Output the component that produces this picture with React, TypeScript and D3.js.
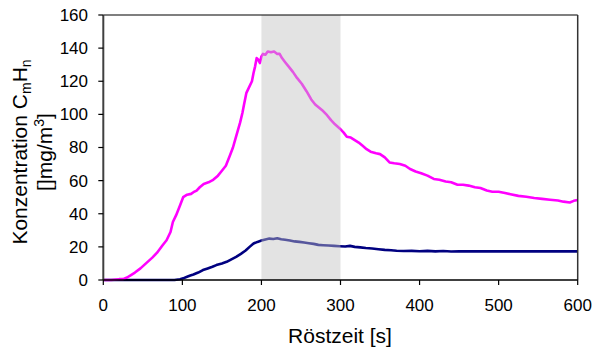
import React from "react";
import * as d3 from "d3";

const xTicks = [0, 100, 200, 300, 400, 500, 600];
const yTicks = [0, 20, 40, 60, 80, 100, 120, 140, 160];
const shadeRange = [200, 300];

const pinkT = [0, 10, 20, 25, 30, 35, 40, 47, 55, 62, 68, 75, 80, 85, 88, 92, 97, 101, 106, 111, 114, 118, 122, 127, 133, 139, 145, 150, 155, 160, 164, 167, 170, 173, 176, 178, 181, 184, 188, 190, 192, 194, 196, 198, 200, 202, 205, 208, 212, 216, 220, 223, 226, 230, 235, 240, 245, 251, 257, 263, 268, 273, 278, 283, 288, 293, 299, 304, 308, 313, 318, 323, 328, 333, 338, 345, 350, 356, 362, 368, 375, 382, 388, 395, 402, 410, 418, 425, 433, 440, 448, 455, 462, 470, 477, 485, 492, 500, 508, 515, 525, 535, 545, 555, 565, 575, 582, 590, 595, 600];
const pinkV = [0, 0, 0.5, 0.5, 1.5, 3, 4.5, 7, 10.5, 13.5, 16.5, 21, 24, 29, 35, 39, 45, 50, 51.5, 52, 53, 54, 56, 58, 59, 60.5, 63, 66, 69, 75, 80, 85, 90, 95, 101, 106, 113, 116, 120, 125, 129, 134, 133, 131, 135, 136.5, 136, 138, 137.5, 138, 136.5, 136.5, 134, 131.5, 128.5, 125.5, 122, 118.5, 114, 109, 106, 104, 102, 99.5, 96.5, 94, 91.5, 89, 86.5, 86, 84.5, 83, 81, 79, 77.5, 76.5, 76, 74, 71, 70.5, 70, 69, 67, 65.5, 64.5, 63, 61, 60.5, 59.5, 59, 57.5, 57.5, 57, 56, 55.5, 54, 53.3, 53.3, 52.5, 51.8, 50.8, 50.3, 49.5, 49, 48.5, 48, 47.3, 46.8, 47.8, 48.3];

const navyT = [0, 20, 40, 60, 80, 90, 97, 101, 106, 110, 114, 120, 126, 132, 138, 143, 150, 156, 162, 168, 174, 180, 185, 190, 195, 200, 205, 210, 215, 220, 225, 230, 236, 242, 248, 254, 260, 266, 272, 278, 285, 292, 299, 306, 312, 318, 325, 332, 340, 348, 356, 364, 371, 380, 390, 400, 410, 420, 430, 440, 450, 500, 550, 600];
const navyV = [0, 0, 0, 0, 0, 0, 0.5, 1, 2, 2.7, 3.3, 4.5, 6, 7, 8, 9, 10, 11, 12.5, 14, 15.8, 17.8, 20, 22, 23, 23.8, 24.5, 25, 24.8, 25.2, 24.6, 24.3, 23.8, 23.3, 23, 22.6, 22.2, 21.8, 21.2, 21, 20.8, 20.6, 20.4, 20.2, 20.6, 20, 19.7, 19.3, 19, 18.6, 18.2, 18, 17.7, 17.5, 17.6, 17.4, 17.6, 17.3, 17.5, 17.2, 17.3, 17.3, 17.3, 17.3];

const W = 593, H = 353;
const left = 103.3, right = 577.7, top = 15, bottom = 280;

export default function App() {
  const x = d3.scaleLinear().domain([0, 600]).range([left, right]);
  const y = d3.scaleLinear().domain([0, 160]).range([bottom, top]);
  const line = d3.line<[number, number]>().x(d => x(d[0])).y(d => y(d[1]));
  const pink = line(pinkT.map((t, i) => [t, pinkV[i]] as [number, number])) || "";
  const navy = line(navyT.map((t, i) => [t, navyV[i]] as [number, number])) || "";
  const font = "Liberation Sans, Arial, sans-serif";
  return (
    <svg width={W} height={H} style={{ position: "absolute", left: 0, top: 0, background: "#fff" }} fontFamily={font}>
      <rect x={left} y={top} width={right - left} height={bottom - top} fill="#fff" stroke="none" />
      <path d={navy} fill="none" stroke="#000080" strokeWidth={2.6} strokeLinejoin="round" />
      <path d={pink} fill="none" stroke="#ff00ff" strokeWidth={2.6} strokeLinejoin="round" />
      <rect x={x(shadeRange[0])} y={top} width={x(shadeRange[1]) - x(shadeRange[0])} height={bottom - top} fill="#c0c0c0" fillOpacity={0.45} />
      <line x1={left} x2={right} y1={top} y2={top} stroke="#000" strokeWidth={1.2} />
      <line x1={right} x2={right} y1={top} y2={bottom} stroke="#333" strokeWidth={1.5} />
      <line x1={left} x2={left} y1={top} y2={bottom} stroke="#404040" strokeWidth={2} />
      <line x1={left} x2={right} y1={bottom} y2={bottom} stroke="#000" strokeWidth={1.3} />
      {yTicks.map(v => (
        <g key={"y" + v}>
          <line x1={left - 5} x2={left} y1={y(v)} y2={y(v)} stroke="#000" strokeWidth={1.2} />
          <text x={88} y={y(v)} dy="0.35em" textAnchor="end" fontSize={17} fill="#000">{v}</text>
        </g>
      ))}
      {xTicks.map(v => (
        <g key={"x" + v}>
          <line x1={x(v)} x2={x(v)} y1={bottom} y2={bottom + 5} stroke="#000" strokeWidth={1.2} />
          <text x={x(v)} y={305} dy="0.35em" textAnchor="middle" fontSize={17} fill="#000">{v}</text>
        </g>
      ))}
      <text x={340} y={343} textAnchor="middle" fontSize={21} fill="#000">Röstzeit [s]</text>
      <g transform="translate(27,152) rotate(-90)">
        <text x={0} y={0} textAnchor="middle" fontSize={21} fill="#000">
          Konzentration C<tspan fontSize={14} dy="4">m</tspan><tspan dy="-4">H</tspan><tspan fontSize={14} dy="4">n</tspan>
        </text>
        <text x={0} y={25} textAnchor="middle" fontSize={21} fill="#000">
          []mg/m<tspan fontSize={14} dy="-8">3</tspan><tspan dy="8">]</tspan>
        </text>
      </g>
    </svg>
  );
}
